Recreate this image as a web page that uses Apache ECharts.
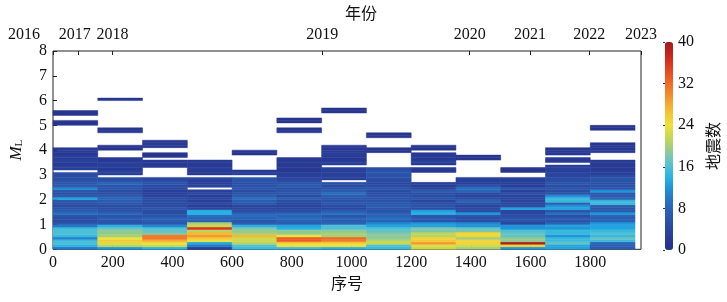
<!DOCTYPE html>
<html>
<head>
<meta charset="utf-8">
<script src="https://cdn.jsdelivr.net/npm/echarts@6/dist/echarts.min.js"></script>
<style>
  html, body { margin: 0; padding: 0; background: #fff; }
  #chart { width: 727px; height: 302px; }
</style>
</head>
<body>
<div id="chart"></div>
<script>
// each column = 150 samples (序号), bins of 0.1 ML from 0.0 upward, value = 地震数 (0 = empty)
const colSize = 150
const binSize = 0.1
const col1 = [10, 14, 16, 15, 11, 15, 16, 16, 15, 10, 6, 5, 5, 6, 9, 7, 6, 5, 5, 6, 13, 7, 5, 6, 11, 7, 6, 6, 5, 5, 5, 0, 3, 3, 2, 3, 3, 3, 2, 2, 2, 0, 0, 0, 0, 0, 0, 0, 0, 0, 1, 1, 0, 0, 1, 1]
const col2 = [12, 21, 23, 26, 24, 20, 19, 19, 17, 14, 6, 6, 7, 6, 8, 6, 5, 5, 6, 7, 8, 7, 5, 5, 6, 6, 8, 6, 5, 0, 3, 3, 2, 3, 3, 2, 2, 0, 0, 0, 1, 1, 0, 0, 0, 0, 0, 1, 1, 0, 0, 0, 0, 0, 0, 0, 0, 0, 0, 0, 1]
const col3 = [14, 22, 24, 28, 31, 31, 18, 17, 16, 11, 6, 7, 8, 6, 5, 5, 6, 5, 4, 5, 5, 4, 3, 3, 4, 5, 6, 5, 4, 0, 0, 0, 0, 2, 2, 2, 0, 1, 1, 0, 0, 1, 2, 1]
const col4 = [3, 10, 13, 24, 26, 29, 27, 21, 36, 22, 20, 8, 8, 9, 14, 14, 4, 3, 4, 3, 4, 3, 4, 3, 0, 4, 3, 3, 4, 0, 2, 2, 3, 2, 2, 2]
const col5 = [15, 16, 21, 22, 22, 27, 20, 19, 18, 14, 7, 6, 8, 9, 7, 5, 4, 4, 6, 7, 9, 7, 6, 5, 6, 6, 5, 6, 6, 0, 3, 2, 0, 0, 0, 0, 0, 0, 1, 1]
const col6 = [15, 24, 25, 33, 33, 24, 19, 19, 14, 13, 7, 8, 9, 8, 8, 5, 4, 4, 4, 5, 7, 5, 6, 6, 5, 7, 6, 5, 4, 3, 3, 2, 2, 2, 2, 2, 2, 0, 0, 0, 0, 0, 0, 0, 0, 0, 0, 1, 1, 0, 0, 1, 1]
const col7 = [14, 24, 25, 31, 32, 20, 20, 19, 16, 16, 8, 7, 8, 6, 9, 7, 4, 5, 6, 6, 6, 7, 9, 7, 6, 5, 5, 0, 3, 3, 3, 3, 3, 0, 3, 2, 2, 2, 3, 2, 2, 2, 0, 0, 0, 0, 0, 0, 0, 0, 0, 0, 0, 0, 0, 1, 1]
const col8 = [15, 16, 22, 21, 19, 19, 18, 17, 16, 13, 11, 8, 9, 8, 7, 6, 6, 7, 6, 6, 6, 6, 5, 5, 6, 5, 4, 5, 5, 6, 6, 6, 5, 0, 0, 0, 0, 0, 0, 1, 1, 0, 0, 0, 0, 1, 1]
const col9 = [22, 23, 29, 26, 25, 21, 21, 18, 18, 13, 12, 6, 7, 6, 14, 13, 5, 6, 5, 4, 6, 5, 5, 7, 4, 3, 3, 0, 0, 0, 0, 2, 2, 0, 2, 3, 2, 2, 2, 0, 1, 1]
const col10 = [20, 22, 25, 25, 20, 25, 25, 18, 17, 12, 11, 5, 5, 6, 12, 5, 4, 4, 5, 8, 5, 4, 4, 8, 9, 6, 3, 3, 3, 0, 0, 0, 0, 0, 0, 0, 1, 1]
const col11 = [12, 25, 39, 19, 19, 17, 17, 16, 12, 12, 4, 6, 6, 5, 4, 4, 13, 5, 4, 4, 4, 4, 5, 3, 6, 3, 3, 3, 3, 0, 0, 1, 1]
const col12 = [13, 13, 17, 15, 15, 12, 15, 15, 12, 13, 8, 6, 7, 5, 9, 6, 13, 12, 7, 15, 15, 12, 6, 5, 6, 5, 6, 5, 5, 4, 4, 3, 3, 3, 0, 2, 2, 0, 2, 2, 1]
const col13 = [7, 7, 8, 15, 17, 15, 16, 15, 13, 13, 12, 8, 7, 8, 12, 7, 6, 7, 15, 15, 8, 7, 6, 12, 6, 6, 5, 6, 6, 5, 3, 3, 2, 2, 2, 2, 0, 0, 0, 2, 2, 2, 1, 0, 0, 0, 0, 0, 1, 1]
const columns = [col1, col2, col3, col4, col5, col6, col7, col8, col9, col10, col11, col12, col13]

const yearLabels = ['2016', '2017', '2018', '2019', '2020', '2021', '2022', '2023']
const yearPos = [0, 86, 199, 902, 1396, 1598, 1797, 1970]

const xMax = 1970
const countMax = 40

const cells = []
columns.forEach((col, c) => {
  col.forEach((v, b) => {
    if (v > 0) cells.push([c * colSize, b * binSize, v])
  })
})

const serif = '"Liberation Serif", "Times New Roman", serif'
const cjk = '"Noto Sans CJK SC", sans-serif'
const txt = '#111'

const chart = echarts.init(document.getElementById('chart'))
const option = {
  animation: false,
  textStyle: { fontFamily: serif },
  grid: [
    { left: 46.7, right: 86, top: 42, bottom: 52.7, show: true, borderColor: '#222', borderWidth: 1 },
    { left: 665, width: 8, top: 42, height: 208, show: false }
  ],
  xAxis: [
    {
      type: 'value', gridIndex: 0, min: 0, max: xMax, interval: 200,
      name: '序号', nameLocation: 'middle', nameGap: 26,
      nameTextStyle: { fontFamily: cjk, fontSize: 16, color: txt },
      axisLine: { show: false },
      axisTick: { inside: true, length: 4, lineStyle: { color: '#222' } },
      splitLine: { show: false },
      axisLabel: {
        fontFamily: serif, fontSize: 16, color: txt, margin: 5, showMaxLabel: false,
        formatter: (v) => String(v)
      }
    },
    {
      type: 'value', gridIndex: 0, position: 'top', min: 0, max: xMax,
      name: '年份', nameLocation: 'middle', nameGap: 30,
      nameTextStyle: { fontFamily: cjk, fontSize: 16, color: txt, padding: [0, 0, 0, 28] },
      axisLine: { show: false },
      axisTick: { inside: true, length: 4, customValues: yearPos, lineStyle: { color: '#222' } },
      splitLine: { show: false },
      axisLabel: {
        customValues: yearPos, fontFamily: serif, fontSize: 16, color: txt, margin: 8,
        formatter: (v) => {
          const i = yearPos.indexOf(v)
          if (i === 0) return '{l|' + yearLabels[i] + '}'
          if (i === 1) return '{m|' + yearLabels[i] + '}'
          return '{n|' + yearLabels[i] + '}'
        },
        rich: {
          l: { fontFamily: serif, fontSize: 16, color: txt, padding: [0, 58, 0, 0] },
          m: { fontFamily: serif, fontSize: 16, color: txt, padding: [0, 8, 0, 0] },
          n: { fontFamily: serif, fontSize: 16, color: txt }
        }
      }
    },
    { type: 'value', gridIndex: 1, min: 0, max: 1, show: false }
  ],
  yAxis: [
    {
      type: 'value', gridIndex: 0, min: 0, max: 8, interval: 1,
      name: '{i|M}{s|L}', nameLocation: 'middle', nameGap: 28,
      nameTextStyle: {
        rich: {
          i: { fontFamily: serif, fontStyle: 'italic', fontSize: 17, color: txt },
          s: { fontFamily: serif, fontSize: 11, color: txt, verticalAlign: 'bottom', padding: [6, 0, 0, 0] }
        }
      },
      axisLine: { show: false },
      axisTick: { inside: true, length: 4, lineStyle: { color: '#222' } },
      splitLine: { show: false },
      axisLabel: { fontFamily: serif, fontSize: 16, color: txt, margin: 6 }
    },
    {
      type: 'value', gridIndex: 1, position: 'right', min: 0, max: countMax, interval: 8, z: 10,
      name: '地震数', nameLocation: 'middle', nameGap: 32,
      nameTextStyle: { fontFamily: cjk, fontSize: 16, color: txt },
      axisLine: { show: false },
      axisTick: { inside: true, length: 2, lineStyle: { color: '#333' } },
      splitLine: { show: false },
      axisLabel: { fontFamily: serif, fontSize: 16, color: txt, margin: 5 }
    }
  ],
  visualMap: {
    type: 'continuous', min: 0, max: countMax, dimension: 2, seriesIndex: 0,
    calculable: false, left: 665, top: 42, itemWidth: 8, itemHeight: 208, padding: 0,
    text: null, showLabel: false,
    inRange: {
      color: ['#27318a', '#283a94', '#2a469f', '#2b55aa', '#2a64b6', '#2479c6', '#1e96da',
        '#28b2e4', '#4ec0d6', '#7cc6b0', '#a6cf78', '#cdd84e', '#ede23a', '#f3c836',
        '#f5aa32', '#f38a2c', '#ef6c26', '#e84e22', '#dc3320', '#c0231e', '#a01a1a']
    }
  },
  series: [
    {
      type: 'custom',
      xAxisIndex: 0,
      yAxisIndex: 0,
      encode: { x: 0, y: 1 },
      data: cells,
      renderItem: (params, api) => {
        const x = api.value(0)
        const y = api.value(1)
        const p0 = api.coord([x, y + binSize])
        const p1 = api.coord([x + colSize, y])
        const color = api.visual('color')
        return {
          type: 'rect',
          shape: { x: p0[0], y: p0[1], width: p1[0] - p0[0], height: p1[1] - p0[1] },
          style: { fill: color, stroke: color, lineWidth: 0.5 }
        }
      }
    }
  ]
}
chart.setOption(option)
</script>
</body>
</html>
